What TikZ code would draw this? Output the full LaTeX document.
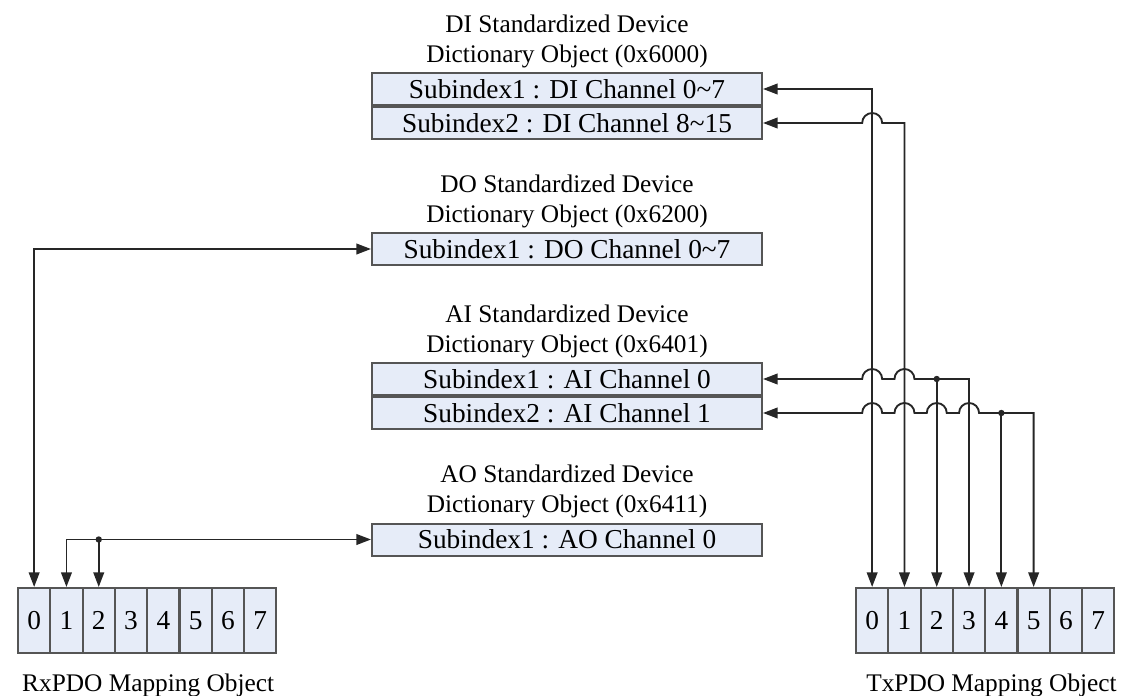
\documentclass[tikz,border=0pt]{standalone}
\usepackage{fontspec}
\setmainfont{Liberation Serif}
\usetikzlibrary{positioning,calc,arrows.meta}
\definecolor{boxfill}{RGB}{230,236,248}
\definecolor{edgegray}{RGB}{85,85,85}
\newcommand{\objfont}{\fontsize{19}{22.5}\selectfont}
\newcommand{\entryfont}{\fontsize{20.5}{24}\selectfont}

\tikzset{
  entry/.style={draw=edgegray,fill=boxfill,line width=1.5pt,minimum width=292.5pt,
    minimum height=24pt,inner sep=0pt,font=\entryfont},
  cell/.style={draw=edgegray,fill=boxfill,line width=1.5pt,minimum width=24.2pt,
    minimum height=48.75pt,inner sep=0pt,font=\entryfont},
  title/.style={align=center,inner sep=0pt,font=\objfont},
  link/.style={draw=black!85,line width=1.4pt}
}

\begin{document}
\begin{tikzpicture}[x=0.75pt,y=-0.75pt,>={Triangle[length=11pt,width=8pt]}]
\useasboundingbox (0,0) rectangle (1122,696);
% dictionary objects
\node[entry] (di1) at (567,89) {Subindex1 : DI Channel 0\textasciitilde7};
\node[entry,below=0pt of di1] (di2) {Subindex2 : DI Channel 8\textasciitilde15};
\node[title,above=3pt of di1] (dititle) {DI Standardized Device\\Dictionary Object (0x6000)};

\node[entry] (do) at (567,249) {Subindex1 : DO Channel 0\textasciitilde7};
\node[title,above=3pt of do] (dotitle) {DO Standardized Device\\Dictionary Object (0x6200)};

\node[entry] (ai1) at (567,379) {Subindex1 : AI Channel 0};
\node[entry,below=0pt of ai1] (ai2) {Subindex2 : AI Channel 1};
\node[title,above=3pt of ai1] (aititle) {AI Standardized Device\\Dictionary Object (0x6401)};

\node[entry] (ao) at (567,539.5) {Subindex1 : AO Channel 0};
\node[title,above=3pt of ao] (aotitle) {AO Standardized Device\\Dictionary Object (0x6411)};

% mapping objects
\foreach \i in {0,...,7} {
  \node[cell] (rx\i) at ({18+32.3*(\i+0.5)},620.5) {\i};
  \node[cell] (tx\i) at ({856+32.3*(\i+0.5)},620.5) {\i};
}
\node[title,below=15pt of rx3.south east] (rxlabel) {RxPDO Mapping Object};
\node[title,below=15pt of tx3.south east,xshift=4pt] (txlabel) {TxPDO Mapping Object};

% RxPDO side
\draw[link,<->] (do.west) -| (rx0.north);
\draw[link,<->] (ao.west) -| (rx1.north);
\path (ao.west -| rx2.north) coordinate (aodot);
\draw[link,->] (aodot) -- (rx2.north);
\fill[black!85] (aodot) circle (2.4pt);

% TxPDO side
\draw[link,<->] (di1.east) -| (tx0.north);
\draw[link,<->] (di2.east) -- ($(di2.east -| tx0.north)+(-10,0)$)
  arc[start angle=180,end angle=0,radius=7.5pt] -| (tx1.north);
\draw[link,<->] (ai1.east)
  \foreach \k in {0,1} { -- ($(ai1.east -| tx\k.north)+(-10,0)$)
    arc[start angle=180,end angle=0,radius=7.5pt] }
  -- (ai1.east -| tx2.north) coordinate (ai1dot) -| (tx3.north);
\draw[link,->] (ai1dot) -- (tx2.north);
\fill[black!85] (ai1dot) circle (2.4pt);
\draw[link,<->] (ai2.east)
  \foreach \k in {0,...,3} { -- ($(ai2.east -| tx\k.north)+(-10,0)$)
    arc[start angle=180,end angle=0,radius=7.5pt] }
  -- (ai2.east -| tx4.north) coordinate (ai2dot) -| (tx5.north);
\draw[link,->] (ai2dot) -- (tx4.north);
\fill[black!85] (ai2dot) circle (2.4pt);
\end{tikzpicture}
\end{document}
